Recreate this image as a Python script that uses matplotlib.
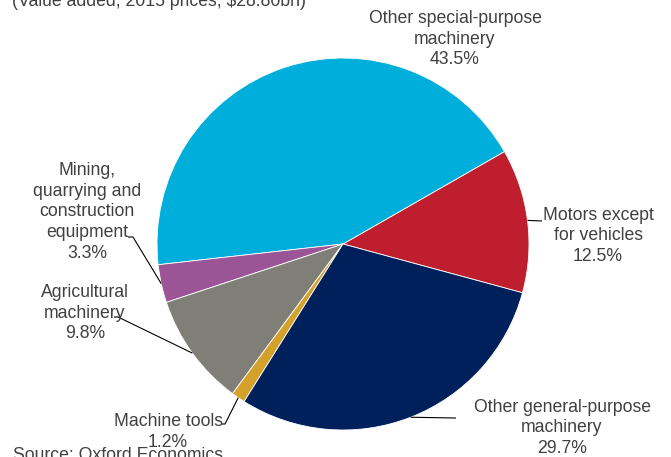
import numpy as np
import matplotlib
matplotlib.use("Agg")
import matplotlib.pyplot as plt

plt.rcParams['font.family'] = ['Liberation Sans', 'DejaVu Sans']

# Shares of machinery value added (percent), counter-clockwise order
categories = [
    "Motors except\nfor vehicles",
    "Other special-purpose\nmachinery",
    "Mining,\nquarrying and\nconstruction\nequipment",
    "Agricultural\nmachinery",
    "Machine tools",
    "Other general-purpose\nmachinery",
]
shares = [12.5, 43.5, 3.3, 9.8, 1.2, 29.7]
colors = ["#BE1E2D", "#00AEDB", "#9B5597", "#7F7F78", "#D4A22A", "#00205B"]

title = "(Value added, 2015 prices, \\$28.80bn)"
source = "Source: Oxford Economics"

W, H = 671, 457
fig = plt.figure(figsize=(W / 100, H / 100), dpi=100)

cx, cy, r = 343, 244, 186
ax = fig.add_axes([(cx - r) / W, (H - cy - r) / H, 2 * r / W, 2 * r / H])
start = -15.2
wedges, _ = ax.pie(shares, colors=colors, startangle=start, counterclock=True,
                   radius=1.0, wedgeprops=dict(edgecolor="white", linewidth=0.6))
ax.set_xlim(-1, 1)
ax.set_ylim(-1, 1)
ax.set_aspect("equal")
ax.axis("off")

def d(px, py):
    return (px - cx) / r, (cy - py) / r

txt_col = "#404040"
fs = 12.7

# label centre (pixels) and leader-line end near the text (pixels, or None)
label_pos = [
    ((598, 236), (542, 221)),
    ((455, 39), None),
    ((87, 212), (133, 237)),
    ((85, 313), (114, 317)),
    ((168, 432), (225, 424)),
    ((562, 428), (456, 418)),
]

cum = start
for share, name, (lp, lend) in zip(shares, categories, label_pos):
    mid = np.deg2rad(cum + share * 3.6 / 2)
    cum += share * 3.6
    tx, ty = d(*lp)
    ax.text(tx, ty, f"{name}\n{share:.1f}%", ha="center", va="center",
            fontsize=fs, color=txt_col, linespacing=1.3, clip_on=False)
    if lend is not None:
        ex, ey = np.cos(mid), np.sin(mid)
        lx, ly = d(*lend)
        pts_x = [ex, lx]
        pts_y = [ey, ly]
        if name.startswith("Agricultural"):
            pts_x = [ex, lx + 4 / r, lx]
            pts_y = [ey, ly, ly]
        if name.startswith("Mining"):
            pts_x = [ex, lx, lx - 5 / r]
            pts_y = [ey, ly, ly]
        if name.startswith("Machine"):
            pts_x = [ex, lx, lx - 4 / r]
            pts_y = [ey, ly, ly]
        ax.plot(pts_x, pts_y, color="black", lw=0.8, clip_on=False,
                solid_capstyle="butt")

fig.text(12 / W, 1 - 6 / H, title, ha="left", va="baseline", fontsize=fs,
         color=txt_col)
fig.text(13 / W, 1 - 460 / H, source, ha="left", va="baseline", fontsize=fs,
         color=txt_col)

fig.savefig("out.png", dpi=100)
